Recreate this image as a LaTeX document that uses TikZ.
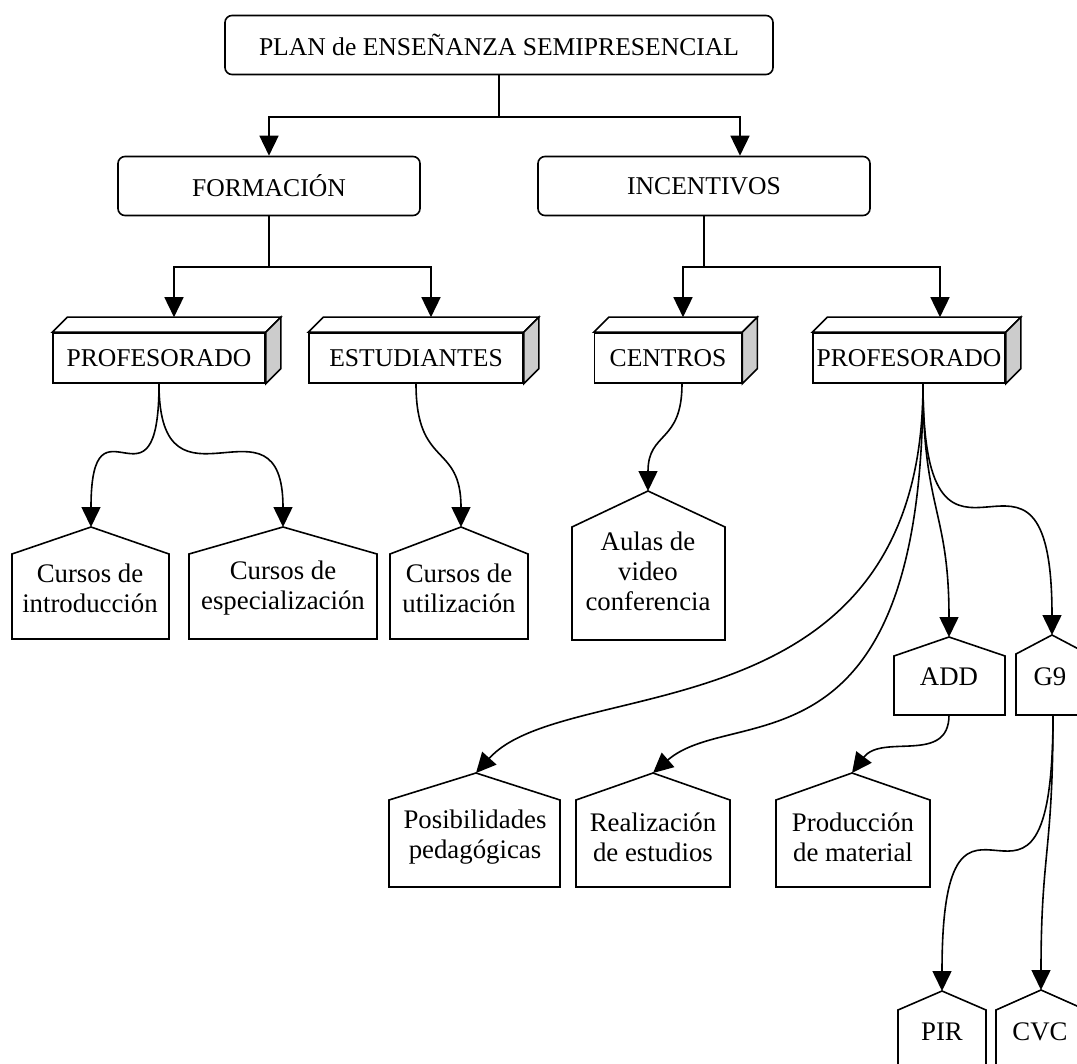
\documentclass[tikz,border=0pt]{standalone}
\usepackage{fontspec}
\setmainfont{Liberation Serif}
\usetikzlibrary{arrows.meta}

\begin{document}
\begin{tikzpicture}[x=0.5pt,y=-0.5pt,line width=0.8pt,
  every node/.style={text centered,align=center,font=\fontsize{12.8}{15}\selectfont},
  rbox/.style={draw,rounded corners=3.5pt,inner sep=0pt,minimum height=29.5pt},
  front/.style={draw,fill=white,inner sep=0pt,minimum height=25pt},
  htext/.style={font=\fontsize{13.4}{15}\selectfont},
  arr/.style={-{Triangle[length=10pt,width=9.5pt]}}]

\useasboundingbox (0,0) rectangle (1077,1064);
\clip (0,0) rectangle (1077,1064);

\node [rbox,minimum width=274pt] (plan) at (499,45) {PLAN de ENSEÑANZA SEMIPRESENCIAL};
\node [rbox,minimum width=151pt] (form) at (269,186) {FORMACIÓN};
\node [rbox,minimum width=166pt] (inc) at (704,186) {INCENTIVOS};

\draw [arr] (plan.south) -- ++(0,42) -| (form.north);
\draw [arr] (plan.south) -- ++(0,42) -| ([xshift=18pt]inc.north);

% cajas 3D
\node [front,minimum width=106pt] (prof1) at (159,358) {PROFESORADO};
\node [front,minimum width=107pt] (estud) at (416,358) {ESTUDIANTES};
\node [front,minimum width=73.5pt] (cent) at (668,358) {CENTROS};
\node [front,minimum width=96pt] (prof2) at (909,358) {PROFESORADO};

\path [draw,fill=white] (prof1.north west) -- ([shift={(15,-15)}]prof1.north west) -- ([shift={(15,-15)}]prof1.north east) -- (prof1.north east) -- cycle;
\path [draw,fill=black!20] (prof1.north east) -- ([shift={(15,-15)}]prof1.north east) -- ([shift={(15,-15)}]prof1.south east) -- (prof1.south east) -- cycle;
\path [draw,fill=white] (estud.north west) -- ([shift={(15,-15)}]estud.north west) -- ([shift={(15,-15)}]estud.north east) -- (estud.north east) -- cycle;
\path [draw,fill=black!20] (estud.north east) -- ([shift={(15,-15)}]estud.north east) -- ([shift={(15,-15)}]estud.south east) -- (estud.south east) -- cycle;
\path [draw,fill=white] (cent.north west) -- ([shift={(15,-15)}]cent.north west) -- ([shift={(15,-15)}]cent.north east) -- (cent.north east) -- cycle;
\path [draw,fill=black!20] (cent.north east) -- ([shift={(15,-15)}]cent.north east) -- ([shift={(15,-15)}]cent.south east) -- (cent.south east) -- cycle;
\path [draw,fill=white] (prof2.north west) -- ([shift={(15,-15)}]prof2.north west) -- ([shift={(15,-15)}]prof2.north east) -- (prof2.north east) -- cycle;
\path [draw,fill=black!20] (prof2.north east) -- ([shift={(15,-15)}]prof2.north east) -- ([shift={(15,-15)}]prof2.south east) -- (prof2.south east) -- cycle;

\draw [arr] (form.south) -- ++(0,51) -| ([shift={(15,-15)}]prof1.north);
\draw [arr] (form.south) -- ++(0,51) -| ([shift={(15,-15)}]estud.north);
\draw [arr] (inc.south) -- ++(0,51) -| ([shift={(15,-15)}]cent.north);
\draw [arr] (inc.south) -- ++(0,51) -| ([shift={(31,-15)}]prof2.north);

% casitas
\path [draw] (12,554) -- (91,527) -- (169,554) -- (169,639) -- (12,639) -- cycle;
\path [draw] (189,554) -- (283,527) -- (377,554) -- (377,639) -- (189,639) -- cycle;
\path [draw] (390,554) -- (461,527) -- (528,554) -- (528,639) -- (390,639) -- cycle;
\path [draw] (572,527) -- (648,491) -- (725,527) -- (725,640) -- (572,640) -- cycle;
\path [draw] (389,800) -- (476,773) -- (560,800) -- (560,887) -- (389,887) -- cycle;
\path [draw] (576,800) -- (653,773) -- (730,800) -- (730,887) -- (576,887) -- cycle;
\path [draw] (776,800) -- (852,773) -- (930,800) -- (930,887) -- (776,887) -- cycle;
\path [draw] (894,656) -- (949,637) -- (1005,656) -- (1005,715) -- (894,715) -- cycle;
\path [draw] (1016,654) -- (1052,635) -- (1088,654) -- (1088,715) -- (1016,715) -- cycle;
\path [draw] (898,1010) -- (942,991) -- (986,1010) -- (986,1100) -- (898,1100) -- cycle;
\path [draw] (996,1010) -- (1041,990) -- (1086,1010) -- (1086,1100) -- (996,1100) -- cycle;

\node [htext] (cint) at (90,588) {Cursos de\\introducción};
\node [htext] (cesp) at (283,588) {Cursos de\\especialización};
\node [htext] (cuti) at (459,588) {Cursos de\\utilización};
\node [htext] (aulas) at (648,571) {Aulas de\\video\\conferencia};
\node [htext] (pos) at (475,837) {Posibilidades\\pedagógicas};
\node [htext] (real) at (653,837) {Realización\\de estudios};
\node [htext] (prod) at (853,837) {Producción\\de material};
\node [htext] (add) at (949,677) {ADD};
\node [htext] (g9) at (1050,677) {G9};
\node [htext] (pir) at (942,1032) {PIR};
\node [htext] (cvc) at (1040,1032) {CVC};

\coordinate (cinttop) at (91,527);
\coordinate (cesptop) at (283,527);
\coordinate (cutitop) at (461,527);
\coordinate (aulastop) at (648,491);
\coordinate (postop) at (476,773);
\coordinate (realtop) at (653,773);
\coordinate (prodtop) at (852,773);
\coordinate (addtop) at (949,637);
\coordinate (g9top) at (1052,635);
\coordinate (pirtop) at (942,991);
\coordinate (cvctop) at (1041,990);
\coordinate (addbot) at (949,715);
\coordinate (g9bot) at (1053,715);

\draw [arr] (prof1.south) .. controls +(0,144) and +(0,-144) .. (cinttop);
\draw [arr] (prof1.south) .. controls +(0,144) and +(0,-144) .. (cesptop);
\draw [arr] (estud.south) .. controls +(0,85) and +(0,-85) .. (cutitop);
\draw [arr] ([xshift=7pt]cent.south) .. controls +(0,60) and +(0,-60) .. (aulastop);
\draw [arr] ([xshift=7pt]prof2.south) .. controls +(0,357) and +(90,-100) .. (postop);
\draw [arr] ([xshift=7pt]prof2.south) .. controls +(0,400) and +(80,-70) .. (realtop);
\draw [arr] ([xshift=7pt]prof2.south) .. controls +(0,127) and +(0,-127) .. (addtop);
\draw [arr] ([xshift=7pt]prof2.south) .. controls +(0,252) and +(0,-252) .. (g9top);
\draw [arr] (addbot) .. controls +(0,50) and +(30,-40) .. (prodtop);
\draw [arr] (g9bot) .. controls +(0,276) and +(0,-276) .. (pirtop);
\draw [arr] (g9bot) .. controls +(0,138) and +(0,-138) .. (cvctop);

\end{tikzpicture}
\end{document}
